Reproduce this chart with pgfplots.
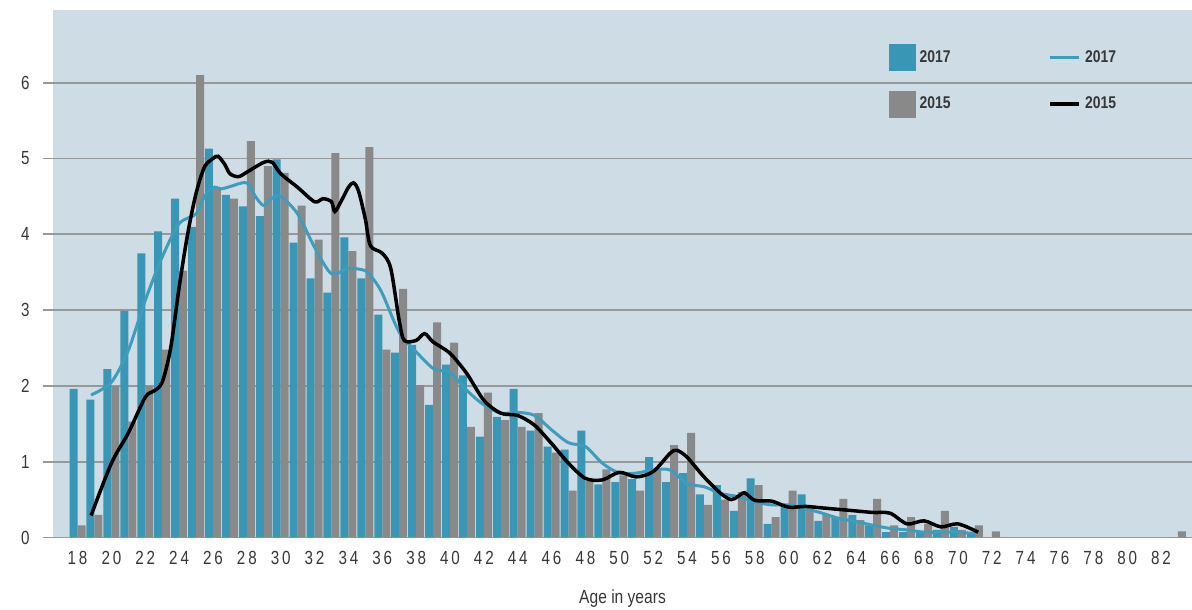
\documentclass[border=0pt]{standalone}
\usepackage{pgfplots}
\pgfplotsset{compat=1.18}
\usepackage{pgfplotstable}
\usepackage{fontspec}
\setmainfont{Liberation Sans}
\newfontfamily\tickfont[FakeStretch=0.8,LetterSpace=15]{Liberation Sans}
\newfontfamily\labfont[FakeStretch=0.82]{Liberation Sans}
\definecolor{bgc}{RGB}{206,221,229}
\definecolor{tealbar}{RGB}{58,150,181}
\definecolor{tealline}{RGB}{62,156,188}
\definecolor{graybar}{RGB}{137,137,137}
\definecolor{gridc}{RGB}{150,152,154}
\definecolor{txt}{RGB}{55,55,55}

\pgfplotstableread{
age t17 t15
18 1.96 0.16
19 1.82 0.30
20 2.22 2.00
21 2.99 1.53
22 3.75 2.00
23 4.04 2.48
24 4.47 3.52
25 4.10 6.10
26 5.13 4.62
27 4.52 4.47
28 4.37 5.23
29 4.24 4.90
30 4.99 4.81
31 3.89 4.38
32 3.42 3.93
33 3.23 5.07
34 3.96 3.78
35 3.42 5.15
36 2.94 2.48
37 2.44 3.28
38 2.54 2.01
39 1.75 2.84
40 2.28 2.57
41 2.14 1.46
42 1.33 1.91
43 1.59 1.55
44 1.96 1.46
45 1.41 1.64
46 1.20 1.12
47 1.16 0.62
48 1.41 0.75
49 0.70 0.90
50 0.73 0.82
51 0.77 0.62
52 1.06 0.88
53 0.73 1.22
54 0.85 1.38
55 0.57 0.43
56 0.69 0.50
57 0.35 0.60
58 0.78 0.69
59 0.18 0.27
60 0.43 0.62
61 0.57 0.40
62 0.22 0.30
63 0.27 0.51
64 0.30 0.23
65 0.16 0.51
66 0.07 0.16
67 0.07 0.27
68 0.07 0.18
69 0.10 0.35
70 0.14 0.10
71 0.07 0.16
72 0.00 0.08
83 0.00 0.08
}\bars

\pgfplotstableread{
age v
18.8 1.88
20 2.05
21 2.47
22 3.13
23 3.70
24 4.14
25 4.27
25.5 4.50
26 4.62
26.5 4.60
27 4.63
28 4.68
28.5 4.50
29 4.38
29.5 4.48
30 4.50
31 4.27
32 3.83
33 3.48
34 3.55
35 3.52
35.5 3.40
36 3.22
37 2.71
38 2.45
39 2.23
39.5 2.20
40 2.18
41 1.94
42 1.75
43 1.64
44 1.65
45 1.61
46 1.42
47 1.25
48 1.20
49 0.98
50 0.85
51 0.85
52 0.89
53 0.89
54 0.71
55 0.67
56 0.58
57 0.54
58 0.47
59 0.43
60 0.43
61 0.38
62 0.32
63 0.25
64 0.21
65 0.16
66 0.12
67 0.10
68 0.07
69 0.07
70 0.07
71 0.05
}\lineA

\pgfplotstableread{
age v
18.8 0.29
20 0.98
21 1.38
22 1.85
22.5 1.93
23 2.05
23.5 2.50
24 3.30
24.5 4.00
25 4.54
25.5 4.89
26 5.00
26.3 5.03
26.7 4.92
27 4.80
27.5 4.76
28 4.82
29 4.95
29.5 4.95
30 4.80
31 4.62
32 4.43
32.5 4.47
33 4.43
33.2 4.30
33.6 4.45
34 4.62
34.3 4.68
34.6 4.57
35 4.20
35.3 3.85
36 3.75
36.5 3.55
37 2.86
37.3 2.60
38 2.60
38.5 2.69
39 2.58
40 2.43
41 2.16
42 1.81
43 1.64
44 1.61
45 1.48
46 1.24
47 0.98
48 0.78
49 0.76
50 0.86
51 0.80
52 0.87
53 1.11
53.4 1.15
54 1.06
55 0.80
56 0.58
56.6 0.50
57 0.54
57.4 0.59
58 0.49
59 0.48
60 0.40
61 0.41
62 0.39
63 0.37
64 0.35
65 0.33
66 0.32
67 0.18
68 0.22
69 0.14
70 0.18
71.2 0.07
}\lineB

\begin{document}
\begin{tikzpicture}
\path[use as bounding box] (0,0) rectangle (1192pt,610pt);
\begin{axis}[
  at={(53pt,72.5pt)}, anchor=south west,
  scale only axis, width=1139pt, height=527.5pt,
  xmin=16.55, xmax=83.83, ymin=0, ymax=6.96,
  axis background/.style={fill=bgc},
  axis line style={draw=none},
  xtick={18,20,...,82},
  ytick={0,1,...,6},
  ymajorgrids,
  grid style={gridc, line width=1.8pt},
  major tick length=10pt, tick align=outside,
  xtick style={draw=none},
  ytick style={gridc, line width=1.8pt},
  /pgf/number format/assume math mode=true,
  ticklabel style={font=\tickfont\fontsize{19}{22}\selectfont, text=txt},
  yticklabel style={xshift=-10pt},
  xlabel={Age in years},
  xlabel style={font=\labfont\fontsize{19}{22}\selectfont, text=txt, yshift=-18pt},
  legend columns=2, transpose legend,
  legend style={at={(0.734,0.9356)}, anchor=north west, draw=none, fill=none,
    inner sep=0pt, font=\labfont\bfseries\fontsize{17}{20}\selectfont, text=txt,
    column sep=2pt, row sep=20pt,
    /tikz/every even column/.append style={column sep=96pt}},
]
\addplot[ybar, bar width=8pt, bar shift=-4pt, fill=tealbar, draw=none, forget plot] table[x=age, y=t17] {\bars};
\addplot[ybar, bar width=8pt, bar shift=4pt, fill=graybar, draw=none, forget plot] table[x=age, y=t15] {\bars};
\addplot[tealline, line width=3pt, smooth, tension=0.5, forget plot] table[x=age, y=v] {\lineA};
\addplot[black, line width=3.5pt, smooth, tension=0.5, forget plot] table[x=age, y=v] {\lineB};
\addlegendimage{legend image code/.code={\fill[tealbar] (0pt,-13pt) rectangle (26pt,13pt);}}
\addlegendentry{2017}
\addlegendimage{legend image code/.code={\fill[graybar] (0pt,-13pt) rectangle (26pt,13pt);}}
\addlegendentry{2015}
\addlegendimage{legend image code/.code={\draw[tealline, line width=3pt] (0pt,0pt) -- (29pt,0pt);}}
\addlegendentry{2017}
\addlegendimage{legend image code/.code={\draw[black, line width=3.5pt] (0pt,0pt) -- (29pt,0pt);}}
\addlegendentry{2015}
\end{axis}
\end{tikzpicture}
\end{document}
